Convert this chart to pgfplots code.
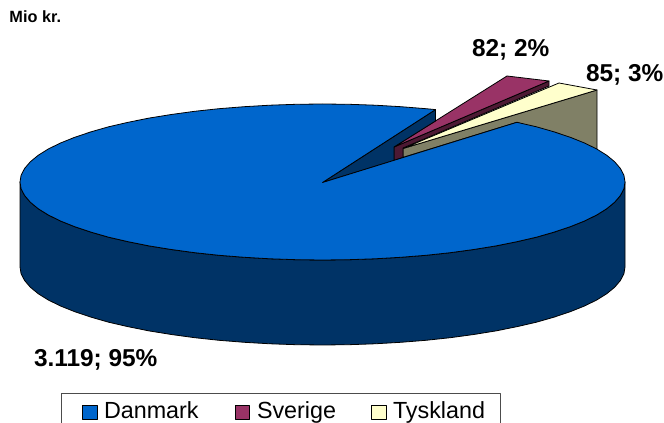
\documentclass[border=0pt]{standalone}
\usepackage{pgfplots}
\pgfplotsset{compat=1.18}
\usepackage{fontspec}
\setmainfont{Liberation Sans}

\definecolor{dkblue}{HTML}{0066CC}
\definecolor{sideblue}{HTML}{003366}
\definecolor{sverige}{HTML}{993366}
\definecolor{sverigeside}{HTML}{4D1933}
\definecolor{tyskland}{HTML}{FFFFCC}
\definecolor{tysklandside}{HTML}{808066}
\tikzset{txt/.style={anchor=base west, inner sep=0pt, outer sep=0pt, text=black}}

\begin{document}
\begin{tikzpicture}
\path[use as bounding box] (0,0) rectangle (498pt,317.25pt);
\begin{axis}[
    at={(0,0)},
    anchor=south west,
    scale only axis,
    width=498pt,
    height=317.25pt,
    xmin=0, xmax=664,
    ymin=0, ymax=423,
    y dir=reverse,
    hide axis,
    clip=true,
    every axis plot/.append style={line width=0.6pt, draw=black, line join=round, no markers},
]
% Tyskland side and top
\addplot[fill=tysklandside] coordinates {(403,148.5) (597,90) (597,149.5) (516.9,122.3) (403,157.4)} -- cycle;
\addplot[fill=tyskland] coordinates {(403,148.5) (559,83) (597,90)} -- cycle;
% Sverige side and top
\addplot[fill=sverigeside] coordinates {(394,147) (549,81) (549,86) (403,148) (403,157.4) (394,160.5)} -- cycle;
\addplot[fill=sverige] coordinates {(394,147) (507,76) (549,81)} -- cycle;
% cut face of Danmark
\addplot[fill=sideblue] coordinates {(322.5,182.5) (435.5,109.6) (435.5,121) (394,147) (394,160.5)} -- cycle;
% Danmark outer wall
\addplot[fill=sideblue] coordinates {
 (625,182) (623.9,188.8) (620.4,195.5) (614.7,202.2) (606.8,208.7) (596.7,215) (584.5,221) (570.3,226.7)
 (554.2,232.1) (536.4,237.2) (516.9,241.7) (496,245.9) (473.8,249.5) (450.3,252.7) (426,255.3) (400.8,257.3)
 (375,258.8) (348.9,259.7) (322.5,260) (296.1,259.7) (270,258.8) (244.2,257.3) (219,255.3) (194.7,252.7)
 (171.3,249.5) (149,245.9) (128.1,241.7) (108.6,237.2) (90.8,232.1) (74.7,226.7) (60.5,221) (48.3,215)
 (38.2,208.7) (30.3,202.2) (24.6,195.5) (21.1,188.8) (20,182)
 (20,267) (21.1,273.8) (24.6,280.5) (30.3,287.2) (38.2,293.7) (48.3,300) (60.5,306) (74.7,311.7)
 (90.8,317.1) (108.6,322.2) (128.1,326.7) (149,330.9) (171.3,334.5) (194.7,337.7) (219,340.3) (244.2,342.3)
 (270,343.8) (296.1,344.7) (322.5,345) (348.9,344.7) (375,343.8) (400.8,342.3) (426,340.3) (450.3,337.7)
 (473.8,334.5) (496,330.9) (516.9,326.7) (536.4,322.2) (554.2,317.1) (570.3,311.7) (584.5,306) (596.7,300)
 (606.8,293.7) (614.7,287.2) (620.4,280.5) (623.9,273.8) (625,267)
} -- cycle;
% Danmark top
\addplot[fill=dkblue] coordinates {
 (322.5,182.5) (516.9,122.3) (536.4,126.8) (554.2,131.9) (570.3,137.3) (584.5,143) (596.7,149) (606.8,155.3)
 (614.7,161.8) (620.4,168.5) (623.9,175.2)
 (625,182) (623.9,188.8) (620.4,195.5) (614.7,202.2) (606.8,208.7) (596.7,215) (584.5,221) (570.3,226.7)
 (554.2,232.1) (536.4,237.2) (516.9,241.7) (496,245.9) (473.8,249.5) (450.3,252.7) (426,255.3) (400.8,257.3)
 (375,258.8) (348.9,259.7) (322.5,260) (296.1,259.7) (270,258.8) (244.2,257.3) (219,255.3) (194.7,252.7)
 (171.3,249.5) (149,245.9) (128.1,241.7) (108.6,237.2) (90.8,232.1) (74.7,226.7) (60.5,221) (48.3,215)
 (38.2,208.7) (30.3,202.2) (24.6,195.5) (21.1,188.8) (20,182)
 (21.1,175.2) (24.6,168.5) (30.3,161.8) (38.2,155.3) (48.3,149) (60.5,143) (74.7,137.3) (90.8,131.9)
 (108.6,126.8) (128.1,122.3) (149,118.1) (171.3,114.5) (194.7,111.3) (219,108.7) (244.2,106.7) (270,105.2)
 (296.1,104.3) (322.5,104) (348.9,104.3) (375,105.2) (400.8,106.7) (426,108.7) (435.5,109.6)
} -- cycle;
% legend frame, cut by the lower edge of the picture
\addplot[line width=0.5pt, draw=black!70] coordinates {(61.7,430) (61.7,393) (500.7,393) (500.7,430)};
\addplot[fill=dkblue] coordinates {(82,405) (97,405) (97,419) (82,419)} -- cycle;
\addplot[fill=sverige] coordinates {(235,405) (249,405) (249,419) (235,419)} -- cycle;
\addplot[fill=tyskland] coordinates {(371,405) (386,405) (386,419) (371,419)} -- cycle;

\node[txt, font=\bfseries\fontsize{12.2}{14}\selectfont] at (axis cs:9.5,23) {Mio kr.};
\node[txt, font=\bfseries\fontsize{18.3}{20}\selectfont] at (axis cs:472,57) {82; 2\%};
\node[txt, font=\bfseries\fontsize{18.3}{20}\selectfont] at (axis cs:586,82) {85; 3\%};
\node[txt, font=\bfseries\fontsize{18.3}{20}\selectfont] at (axis cs:34,366.5) {3.119; 95\%};
\node[txt, font=\fontsize{17.5}{19}\selectfont] at (axis cs:104,419) {Danmark};
\node[txt, font=\fontsize{17.5}{19}\selectfont] at (axis cs:257,419) {Sverige};
\node[txt, font=\fontsize{17.5}{19}\selectfont] at (axis cs:393,419) {Tyskland};
\end{axis}
\end{tikzpicture}
\end{document}
